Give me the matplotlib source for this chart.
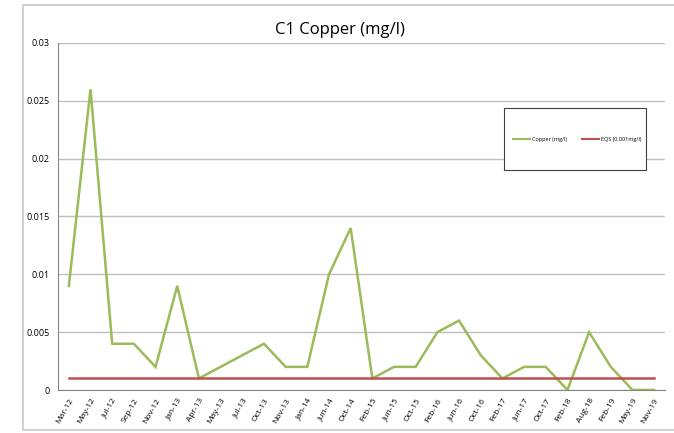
import numpy as np
import matplotlib.pyplot as plt
import matplotlib.patches as mpatches
from matplotlib.lines import Line2D

# --- data ---
dates = ['Mar-12', 'May-12', 'Jul-12', 'Sep-12', 'Nov-12', 'Jan-13', 'Apr-13',
         'May-13', 'Jul-13', 'Oct-13', 'Nov-13', 'Jan-14', 'Jun-14', 'Oct-14',
         'Feb-15', 'Jun-15', 'Oct-15', 'Feb-16', 'Jun-16', 'Oct-16', 'Feb-17',
         'Jun-17', 'Oct-17', 'Feb-18', 'Aug-18', 'Feb-19', 'May-19', 'Nov-19']
copper = [0.009, 0.026, 0.004, 0.004, 0.002, 0.009, 0.001,
          None, None, 0.004, 0.002, 0.002, 0.010, 0.014,
          0.001, 0.002, 0.002, 0.005, 0.006, 0.003, 0.001,
          0.002, 0.002, 0.0, 0.005, 0.002, 0.0, 0.0]
eqs = 0.001

plt.rcParams['font.family'] = ['Open Sans', 'DejaVu Sans']

fig = plt.figure(figsize=(6.74, 4.33), dpi=100)
W, H = 674, 433

# outer chart border
fig.patches.append(mpatches.Rectangle((23 / W, 3 / H), 660 / W, 425 / H,
                                      transform=fig.transFigure, fill=False,
                                      edgecolor='#c8c8c8', linewidth=1.2))

ax = fig.add_axes([58 / W, 1 - 390 / H, (665 - 58) / W, (390 - 43) / H])

x = np.arange(len(dates))
cu = np.array([np.nan if v is None else v for v in copper])
ok = ~np.isnan(cu)
ax.plot(x[ok], cu[ok], color='#9bbb59', linewidth=1.8, solid_joinstyle='miter')
ax.plot(x, [eqs] * len(x), color='#c0504d', linewidth=1.8)

ax.set_xlim(-0.5, len(dates) - 0.5)
ax.set_ylim(0, 0.03)
ax.set_yticks([0, 0.005, 0.01, 0.015, 0.02, 0.025, 0.03])
ax.set_yticklabels(['0', '0.005', '0.01', '0.015', '0.02', '0.025', '0.03'], fontsize=6.5)
ax.set_xticks(x)
ax.set_xticklabels(dates, rotation=60, ha='right', rotation_mode='anchor', fontsize=6)
ax.tick_params(axis='both', length=0, pad=6)
ax.tick_params(axis='x', pad=5)

ax.grid(axis='y', color='#bfbfbf', linewidth=1)
ax.set_axisbelow(True)
for s in ['top', 'right']:
    ax.spines[s].set_visible(False)
ax.spines['left'].set_color('#868686')
ax.spines['bottom'].set_color('#868686')

fig.text(340 / W, 1 - 30 / H, 'C1 Copper (mg/l)', ha='center', va='center', fontsize=12)

# legend box (white, dark border) drawn over the gridlines
fig.patches.append(mpatches.Rectangle((504 / W, 1 - 170 / H), 142 / W, 62 / H,
                                      transform=fig.transFigure, facecolor='white',
                                      edgecolor='#404040', linewidth=0.8, zorder=5))
handles = [Line2D([], [], color='#9bbb59', linewidth=1.5),
           Line2D([], [], color='#c0504d', linewidth=1.5)]
leg = fig.legend(handles, ['Copper (mg/l)', 'EQS (0.001mg/l)'], ncol=2,
                 loc='center', bbox_to_anchor=(577 / W, 1 - 139 / H),
                 fontsize=4, frameon=False, handlelength=3.2, columnspacing=2.6,
                 handletextpad=0.3)
leg.set_zorder(6)

fig.savefig('out.png', dpi=100)
